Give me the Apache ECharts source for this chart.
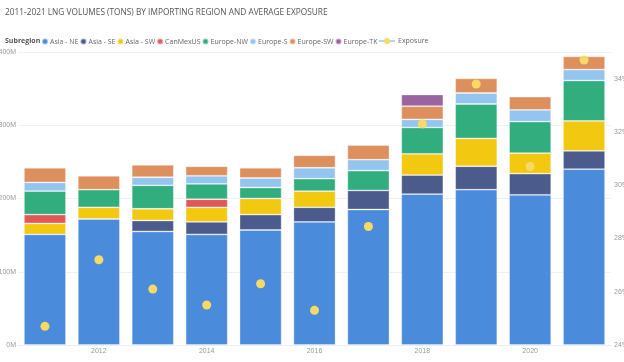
<!DOCTYPE html>
<html><head><meta charset="utf-8">
<script src="https://cdn.jsdelivr.net/npm/echarts@6/dist/echarts.min.js"></script>
<style>html,body{margin:0;padding:0;background:#fff}#c{width:624px;height:362px}</style>
</head><body><div id="c"></div>
<script>
const years = ['2011','2012','2013','2014','2015','2016','2017','2018','2019','2020','2021'];
const asiaNE    = [151, 172, 155, 151, 157, 168, 185, 206, 212, 205, 240];
const asiaSE    = [0,   0,   15,  17,  21,  20,  26,  26,  32,  29,  25];
const asiaSW    = [15,  16,  16,  20,  22,  22,  0,   29,  38,  28,  41];
const canMexUS  = [12,  0,   0,   11,  0,   0,   0,   0,   0,   0,   0];
const europeNW  = [32,  24,  32,  21,  15,  17,  27,  36,  47,  43,  55];
const europeS   = [12,  0,   11,  11,  13,  15,  15,  11,  15,  16,  15];
const europeSW  = [20,  19,  17,  13,  14,  17,  20,  18,  20,  18,  18];
const europeTK  = [0,   0,   0,   0,   0,   0,   0,   16,  0,   0,   0];
const exposure  = [24.7, 27.2, 26.1, 25.5, 26.3, 25.3, 28.45, 32.3, 33.8, 30.7, 34.7];
const leftTicks = [0, 100, 200, 300, 400];
const rightTicks = [24, 26, 28, 30, 32, 34];

const stackDefs = [
  ['Asia - NE', asiaNE, '#4A8BDB'],
  ['Asia - SE', asiaSE, '#4B5B8B'],
  ['Asia - SW', asiaSW, '#F2C811'],
  ['CanMexUS', canMexUS, '#DF5757'],
  ['Europe-NW', europeNW, '#31AD7E'],
  ['Europe-S', europeS, '#93C5EF'],
  ['Europe-SW', europeSW, '#DE8F5E'],
  ['Europe-TK', europeTK, '#9A64A0']
];
const dotColor = '#F7D966';
const font = 'Open Sans, Noto Sans, sans-serif';

const series = stackDefs.map(([name, data, color]) => ({
  name, type: 'bar', stack: 'v', yAxisIndex: 0,
  data: data.map(v => v === 0 ? null : v),
  barCategoryGap: '22%',
  itemStyle: { color, borderColor: 'rgba(255,255,255,0.45)', borderWidth: 0.8 },
  emphasis: { disabled: true }
}));
series.push({
  name: 'Exposure', type: 'line', yAxisIndex: 1, data: exposure,
  symbol: 'circle', symbolSize: 9, showSymbol: true,
  itemStyle: { color: dotColor },
  lineStyle: { width: 0, opacity: 0 },
  z: 10
});

const legendData = stackDefs.map(d => ({ name: d[0], icon: 'circle' }));

const chart = echarts.init(document.getElementById('c'), null, { renderer: 'canvas' });
chart.setOption({
  animation: false,
  backgroundColor: '#fff',
  title: {
    text: '2011-2021 LNG VOLUMES (TONS) BY IMPORTING REGION AND AVERAGE EXPOSURE',
    left: 5, top: 9, padding: 0,
    textStyle: { fontSize: 8.3, fontWeight: 'normal', color: '#555', fontFamily: font }
  },
  graphic: [
    { type: 'text', left: 5, top: 37,
      style: { text: 'Subregion', fontSize: 7, fontWeight: 'bold', fill: '#555', fontFamily: font } },
    { type: 'line', shape: { x1: 379, y1: 41, x2: 395, y2: 41 }, style: { stroke: '#8DB6E8', lineWidth: 1.2 } },
    { type: 'circle', shape: { cx: 387, cy: 41, r: 3 }, style: { fill: dotColor } },
    { type: 'text', left: 398, top: 37,
      style: { text: 'Exposure', fontSize: 7, fill: '#666', fontFamily: font } }
  ],
  legend: {
    left: 41, top: 37.5, itemGap: 1, itemWidth: 6, itemHeight: 6, padding: 0,
    data: legendData,
    textStyle: { fontSize: 7, color: '#666', padding: [0, 0, 0, -3], fontFamily: font },
    selectedMode: false
  },
  grid: { left: 18, right: 13, top: 52, bottom: 17, containLabel: false, outerBoundsMode: 'none' },
  xAxis: {
    type: 'category', data: years,
    axisLine: { show: true, lineStyle: { color: '#eee' } },
    axisTick: { show: false },
    axisLabel: { interval: (i) => i % 2 === 1, fontSize: 7, color: '#999', margin: 3 }
  },
  yAxis: [{
    type: 'value', min: leftTicks[0], max: leftTicks[leftTicks.length - 1], interval: 100,
    axisLabel: { formatter: v => v + 'M', fontSize: 7, color: '#999', margin: 2 },
    splitLine: { lineStyle: { color: '#f0f0f0' } },
    axisLine: { show: false }, axisTick: { show: false }
  }, {
    type: 'value', min: rightTicks[0], max: 35, interval: 2,
    axisLabel: { formatter: v => v + '%', fontSize: 7, color: '#999', margin: 3, showMaxLabel: false },
    splitLine: { show: false },
    axisLine: { show: false }, axisTick: { show: false }
  }],
  series
});
</script></body></html>
